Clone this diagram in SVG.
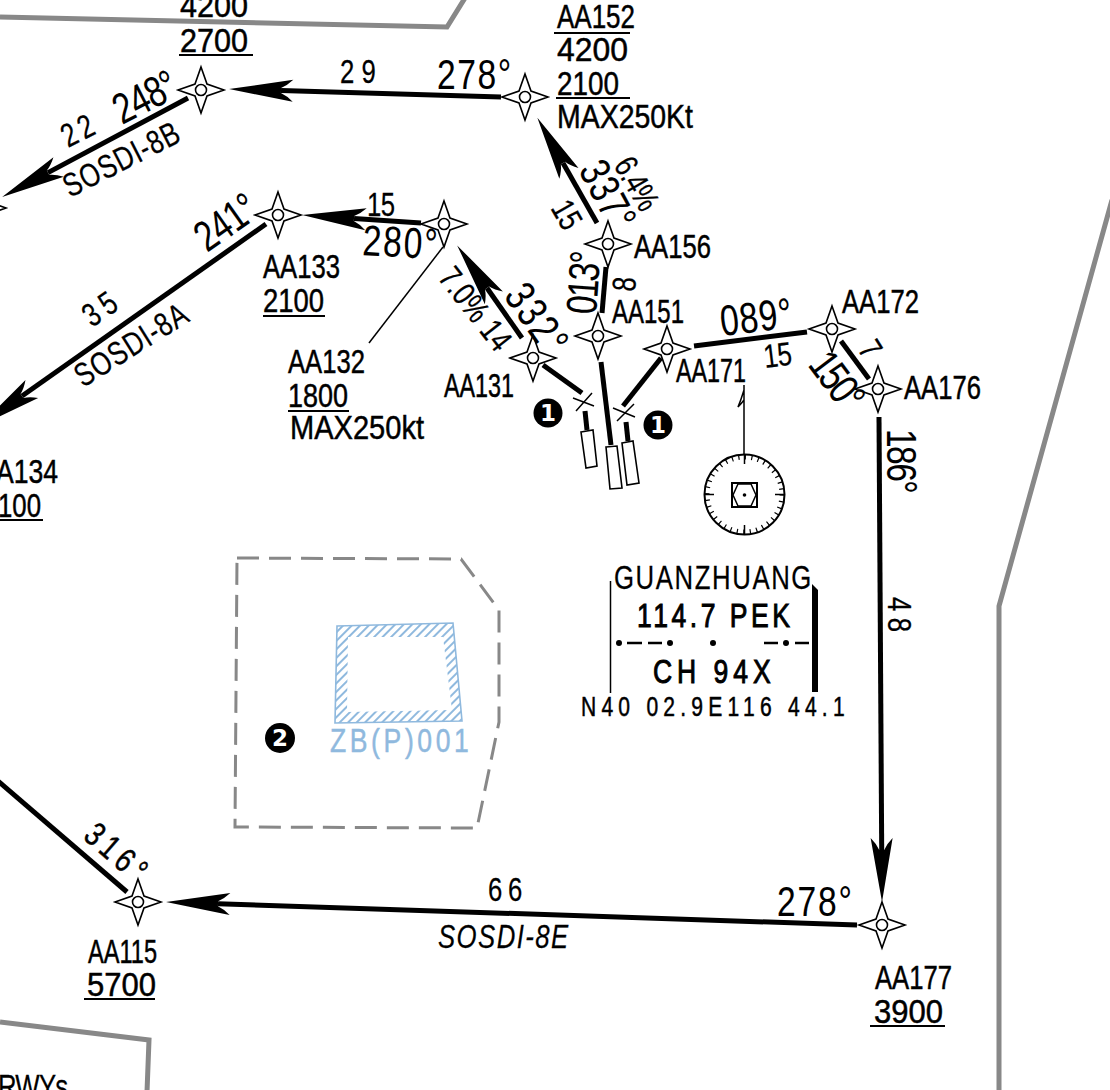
<svg xmlns="http://www.w3.org/2000/svg" width="1110" height="1090" viewBox="0 0 1110 1090">
<style>
text{font-family:"Liberation Sans",Arial,sans-serif;fill:#000;stroke:#000;stroke-width:.5}
.s{font-size:34px}
.m{font-size:43px;stroke-width:.1}
.d{font-size:33px;stroke-width:.25}
.bound{fill:none;stroke:#888;stroke-width:5}
.leg{fill:none;stroke:#000;stroke-width:5}
.arr{marker-end:url(#arrow)}
.thin{fill:none;stroke:#000;stroke-width:1.5}
.ring{fill:none;stroke:#000;stroke-width:2}
.ul{stroke:#000;stroke-width:2}
.wp{fill:none;stroke:#000;stroke-width:1.6}
.badge{font-family:"DejaVu Sans",sans-serif;font-weight:700;font-size:23px;fill:#fff;stroke:none;text-anchor:middle}
.blue{fill:#8fb9de;stroke:#8fb9de}
.b{stroke-width:1}
</style>
<defs>
<marker id="arrow" markerUnits="userSpaceOnUse" markerWidth="66" markerHeight="26" refX="12" refY="13" orient="auto" overflow="visible">
<path d="M64,13 L0,2 Q6,8 12,10.5 L12,15.5 Q6,18 0,24 Z" fill="#000"/>
</marker>
<g id="star"><path class="wp" d="M0,-23 L6,-6 L23,0 L6,6 L0,23 L-6,6 L-23,0 L-6,-6 Z"/><circle class="wp" r="5.5"/></g>
<pattern id="hatch" width="6" height="6" patternUnits="userSpaceOnUse" patternTransform="rotate(45)"><rect width="6" height="6" fill="#fff"/><rect width="2" height="6" fill="#8fb9de"/></pattern>
</defs>
<rect width="1110" height="1090" fill="#fff"/>

<g id="boundaries">
<path class="bound" d="M0,17 L447,27 L465,-2"/>
<path class="bound" d="M1112,200 L999,606 L999,1092"/>
<path class="bound" d="M0,1022 L149,1040 L147,1092"/>
<text class="d" transform="translate(-2,1098) scale(.78,1)" textLength="90">RWYs</text>
</g>

<g id="connectors">
<line class="leg arr" x1="501" y1="97" x2="281" y2="90.5"/>
<line class="leg arr" x1="188" y1="98" x2="48" y2="172.6"/>
<line class="leg arr" x1="266" y1="224" x2="22" y2="396"/>
<line class="leg arr" x1="421" y1="223" x2="354" y2="218.5"/>
<line class="leg arr" x1="522" y1="338" x2="487" y2="288"/>
<line class="leg arr" x1="597" y1="223" x2="563" y2="163"/>
<line class="leg" x1="602" y1="313" x2="606" y2="267"/>
<line class="leg" x1="661" y1="358" x2="623" y2="406"/>
<line class="leg" x1="543" y1="365" x2="582" y2="393"/>
<line class="leg" x1="601" y1="362" x2="611" y2="445"/>
<line class="leg" x1="694" y1="346" x2="807" y2="332"/>
<line class="leg" x1="841" y1="341" x2="869" y2="379"/>
<line class="leg arr" x1="879" y1="417" x2="881.7" y2="850"/>
<line class="leg arr" x1="857" y1="925" x2="218" y2="903.7"/>
<line class="leg" x1="-2" y1="781" x2="127" y2="892"/>
<line class="thin" x1="443" y1="247" x2="369" y2="343"/>
</g>

<g id="leg-labels">
<text class="d" transform="translate(340,83) scale(.78,1)" textLength="46">29</text>
<text class="m" transform="translate(437,89) scale(.78,1)" textLength="95">278°</text>
<text class="d" transform="translate(68,148) rotate(-27) scale(.78,1)" textLength="42">22</text>
<text class="m" transform="translate(122,125) rotate(-27) scale(.78,1)" textLength="85">248°</text>
<text class="d" transform="translate(70,198) rotate(-27) scale(.78,1)" textLength="162">SOSDI-8B</text>
<text class="m" transform="translate(207,253) rotate(-35) scale(.78,1)" textLength="85">241°</text>
<text class="d" transform="translate(92,328) rotate(-35) scale(.78,1)" textLength="44">35</text>
<text class="d" transform="translate(83,388) rotate(-32) scale(.78,1)" textLength="163">SOSDI-8A</text>
<text class="d" transform="translate(367,216) scale(.78,1)" textLength="36">15</text>
<text class="m" transform="translate(362,255) rotate(3) scale(.78,1)" textLength="96">280°</text>
<text class="d" transform="translate(437,278) rotate(52) scale(.78,1)" textLength="123">7.0% 14</text>
<text class="m" transform="translate(503,296) rotate(55) scale(.78,1)" textLength="97">332°</text>
<text class="m" transform="translate(578,170) rotate(62) scale(.78,1)" textLength="92">337°</text>
<text class="d" transform="translate(613,165) rotate(60) scale(.78,1)" textLength="72">6.4%</text>
<text class="d" transform="translate(550,208) rotate(60) scale(.78,1)" textLength="36">15</text>
<text class="m" transform="translate(596,315) rotate(-86) scale(.78,1)" textLength="81">013°</text>
<text class="d" transform="translate(635,292) rotate(-86) scale(.78,1)">8</text>
<text class="m" transform="translate(722,336) rotate(-7) scale(.78,1)" textLength="92">089°</text>
<text class="d" transform="translate(765,368) rotate(-7) scale(.78,1)" textLength="36">15</text>
<text class="m" transform="translate(807,365) rotate(53) scale(.78,1)" textLength="79">150°</text>
<text class="d" transform="translate(857,349) rotate(58) scale(.78,1)">7</text>
<text class="m" transform="translate(887,429) rotate(90) scale(.78,1)" textLength="83">186°</text>
<text class="d" transform="translate(888,597) rotate(90) scale(.78,1)" textLength="45">48</text>
<text class="m" transform="translate(777,916) scale(.78,1)" textLength="96">278°</text>
<text class="d" transform="translate(488,901) scale(.78,1)" textLength="44">66</text>
<text class="d" transform="translate(438,948) scale(.78,1)" textLength="167" font-style="italic">SOSDI-8E</text>
<text class="s" transform="translate(82,838) rotate(41) scale(.78,1)" textLength="90">316°</text>
</g>

<g id="wp-top-left"><use href="#star" x="201" y="90"/>
<text class="s" x="180" y="17" textLength="68" lengthAdjust="spacingAndGlyphs">4200</text>
<text class="s" x="180" y="52" textLength="68" lengthAdjust="spacingAndGlyphs">2700</text>
<line class="ul" x1="179" y1="55" x2="253" y2="55"/></g>
<g id="wp-left-edge"><use href="#star" x="-17" y="208"/></g>
<g id="AA152"><use href="#star" x="525" y="97"/>
<text class="s" x="557" y="28" textLength="78" lengthAdjust="spacingAndGlyphs">AA152</text>
<line class="ul" x1="554" y1="33" x2="630" y2="33"/>
<text class="s" x="557" y="61" textLength="71" lengthAdjust="spacingAndGlyphs">4200</text>
<text class="s" x="557" y="95" textLength="62" lengthAdjust="spacingAndGlyphs">2100</text>
<line class="ul" x1="556" y1="98" x2="630" y2="98"/>
<text class="s" x="557" y="128" textLength="136" lengthAdjust="spacingAndGlyphs">MAX250Kt</text></g>
<g id="AA133"><use href="#star" x="278" y="215"/>
<text class="s" x="263" y="278" textLength="77" lengthAdjust="spacingAndGlyphs">AA133</text>
<text class="s" x="263" y="312" textLength="61" lengthAdjust="spacingAndGlyphs">2100</text>
<line class="ul" x1="263" y1="316" x2="325" y2="316"/></g>
<g id="AA132"><use href="#star" x="444" y="224"/>
<text class="s" x="288" y="373" textLength="77" lengthAdjust="spacingAndGlyphs">AA132</text>
<text class="s" x="288" y="407" textLength="60" lengthAdjust="spacingAndGlyphs">1800</text>
<line class="ul" x1="288" y1="411" x2="349" y2="411"/>
<text class="s" x="290" y="439" textLength="134" lengthAdjust="spacingAndGlyphs">MAX250kt</text></g>
<g id="AA134">
<text class="s" x="-4" y="483" textLength="62" lengthAdjust="spacingAndGlyphs">A134</text>
<text class="s" x="-2" y="517" textLength="43" lengthAdjust="spacingAndGlyphs">100</text>
<line class="ul" x1="0" y1="520" x2="43" y2="520"/></g>
<g id="AA156"><use href="#star" x="608" y="244"/>
<text class="s" x="634" y="258" textLength="77" lengthAdjust="spacingAndGlyphs">AA156</text></g>
<g id="AA151"><use href="#star" x="598" y="336"/>
<text class="s" x="612" y="323" textLength="72" lengthAdjust="spacingAndGlyphs">AA151</text></g>
<g id="AA131"><use href="#star" x="533" y="358"/>
<text class="s" x="444" y="397" textLength="70" lengthAdjust="spacingAndGlyphs">AA131</text></g>
<g id="AA171"><use href="#star" x="667" y="349"/>
<text class="s" x="676" y="382" textLength="70" lengthAdjust="spacingAndGlyphs">AA171</text></g>
<g id="AA172"><use href="#star" x="832" y="329"/>
<text class="s" x="842" y="313" textLength="77" lengthAdjust="spacingAndGlyphs">AA172</text></g>
<g id="AA176"><use href="#star" x="878" y="389"/>
<text class="s" x="904" y="399" textLength="77" lengthAdjust="spacingAndGlyphs">AA176</text></g>
<g id="AA177"><use href="#star" x="882" y="925"/>
<text class="s" x="875" y="989" textLength="77" lengthAdjust="spacingAndGlyphs">AA177</text>
<text class="s" x="874" y="1023" textLength="69" lengthAdjust="spacingAndGlyphs">3900</text>
<line class="ul" x1="870" y1="1026" x2="945" y2="1026"/></g>
<g id="AA115"><use href="#star" x="138" y="902"/>
<text class="s" x="88" y="963" textLength="69" lengthAdjust="spacingAndGlyphs">AA115</text>
<text class="s" x="87" y="996" textLength="69" lengthAdjust="spacingAndGlyphs">5700</text>
<line class="ul" x1="84" y1="999" x2="155" y2="999"/></g>

<g id="runways" stroke="#000" fill="#fff">
<path class="thin" d="M573,398 L594,406 M576,411 L592,393"/>
<path class="thin" d="M613,408 L635,417 M617,421 L634,404"/>
<line x1="585" y1="411" x2="587" y2="430" stroke-width="5"/>
<line x1="626" y1="422" x2="628" y2="441" stroke-width="5"/>
<path stroke-width="1.6" d="M581,432 L593,430 L597,466 L586,468 Z"/>
<path stroke-width="1.6" d="M622,443 L633,441 L639,483 L627,485 Z"/>
<path stroke-width="1.6" d="M606,447 L617,446 L622,488 L610,489 Z"/>
</g>

<g id="note-1a"><circle cx="548" cy="413" r="14.5" fill="#000"/><text class="badge" x="548" y="421">1</text></g>
<g id="note-1b"><circle cx="658" cy="425" r="14.5" fill="#000"/><text class="badge" x="658" y="433">1</text></g>
<g id="note-2"><circle cx="280" cy="738" r="15" fill="#000"/><text class="badge" x="280" y="746">2</text></g>

<g id="vor-guanzhuang">
<path class="thin" d="M744,385 L744,455 M744,390 Q741,400 738,407 Q741,404 744,400"/>
<circle cx="744.5" cy="494.5" r="40" class="ring"/>
<circle cx="744.5" cy="494.5" r="37.5" fill="none" stroke="#000" stroke-width="5" stroke-dasharray="1.2 5.345"/>
<path class="thin" d="M744.5,454 V464 M744.5,525 V535 M704,494.5 H714 M775,494.5 H785"/>
<rect x="732" y="483" width="25" height="24" class="ring"/>
<path class="thin" d="M738,484 L751,484 L756,495 L751,506 L738,506 L733,495 Z"/>
<circle cx="744.5" cy="495" r="1.8" fill="#000"/>
</g>

<g id="navaid-box">
<text class="d" transform="translate(614,589) scale(.78,1)" textLength="253">GUANZHUANG</text>
<text class="s b" transform="translate(637,627) scale(.78,1)" textLength="196">114.7 PEK</text>
<text class="s b" transform="translate(653,683) scale(.78,1)" textLength="151">CH 94X</text>
<text transform="translate(581,716) scale(.78,1)" font-size="27px" textLength="338">N40 02.9E116 44.1</text>
<line x1="610.5" y1="581" x2="610.5" y2="693" stroke="#000" stroke-width="1.5"/>
<path d="M812,584 L818,590 L818,692 L812,692 Z" fill="#000"/>
<path d="M627,643 H642 M648,643 H662 M764,643 H778 M795,643 H809" stroke="#000" stroke-width="2.5" fill="none"/>
<circle cx="619" cy="643" r="3"/><circle cx="670" cy="643" r="3"/><circle cx="713" cy="643" r="3"/><circle cx="786" cy="643" r="3"/>
</g>

<g id="restricted-area">
<path d="M237,558 L461,559 L499,610 L499,722 L477,828 L235,827 Z" fill="none" stroke="#888" stroke-width="3" stroke-dasharray="22 10"/>
<path fill="url(#hatch)" fill-rule="evenodd" d="M337,626 L453,623 L462,721 L335,723 Z M348,637 L443,637 L452,710 L347,712 Z"/>
<path d="M337,626 L453,623 L462,721 L335,723 Z" fill="none" stroke="#8fb9de" stroke-width="1.6"/>
<text class="s blue" transform="translate(330,752) scale(.78,1)" textLength="178">ZB(P)001</text>
</g>
</svg>
